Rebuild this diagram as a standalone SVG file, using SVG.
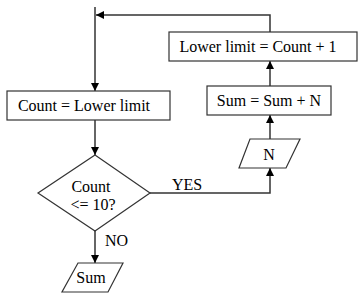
<svg xmlns="http://www.w3.org/2000/svg" width="364" height="297" viewBox="0 0 364 297" font-family="'Liberation Serif', 'Times New Roman', 'DejaVu Serif', serif" font-size="16">
<style>
.s{fill:#fff;stroke:#333;stroke-width:1.2}
.c{fill:none;stroke:#333;stroke-width:1.5}
.m{text-anchor:middle}
</style>
<defs>
<marker id="a" viewBox="0 0 10 10" refX="10" refY="5" markerWidth="8" markerHeight="8" markerUnits="userSpaceOnUse" orient="auto">
<path d="M0,0 L10,5 L0,10 z" fill="#000"/>
</marker>
</defs>
<rect width="364" height="297" fill="#fff"/>
<g id="connectors">
<path class="c" d="M95,7 V91" marker-end="url(#a)"/>
<path class="c" d="M270,32 V15 H96" marker-end="url(#a)"/>
<path class="c" d="M270,86 V61" marker-end="url(#a)"/>
<path class="c" d="M270,139 V115" marker-end="url(#a)"/>
<path class="c" d="M95,120 V155" marker-end="url(#a)"/>
<path class="c" d="M150,193 H270 V168" marker-end="url(#a)"/>
<path class="c" d="M95,231 V263" marker-end="url(#a)"/>
<text x="172" y="190">YES</text>
<text x="105" y="246">NO</text>
</g>
<g id="n_init">
<rect class="s" x="7" y="91" width="163" height="29"/>
<text class="m" x="84" y="111">Count = Lower limit</text>
</g>
<g id="n_decision">
<polygon class="s" points="95,155 150,193 95,231 38,193"/>
<text class="m" x="91" y="192">Count</text>
<text class="m" x="93" y="210">&lt;= 10?</text>
</g>
<g id="n_out">
<polygon class="s" points="78,263 123,263 108,292 62,292"/>
<text class="m" x="91" y="283">Sum</text>
</g>
<g id="n_input">
<polygon class="s" points="250,139 300,139 286,168 239,168"/>
<text class="m" x="269" y="160">N</text>
</g>
<g id="n_sum">
<rect class="s" x="207" y="86" width="124" height="29"/>
<text class="m" x="269" y="106">Sum = Sum + N</text>
</g>
<g id="n_lower">
<rect class="s" x="169" y="32" width="188" height="29"/>
<text class="m" x="258" y="52">Lower limit = Count + 1</text>
</g>
</svg>
